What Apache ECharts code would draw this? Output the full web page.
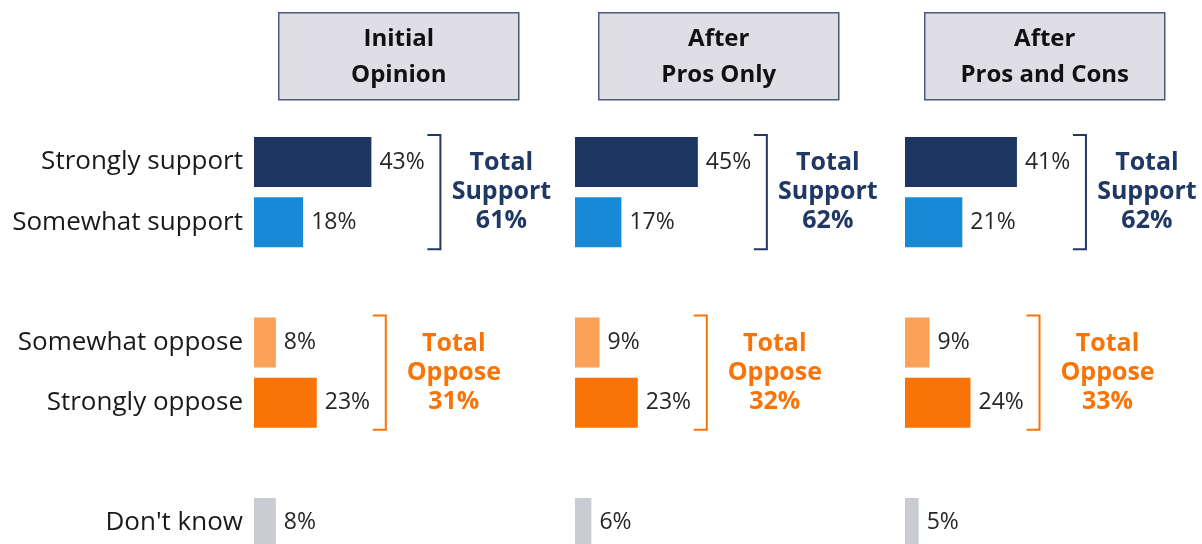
<!DOCTYPE html>
<html><head><meta charset="utf-8">
<script src="https://cdn.jsdelivr.net/npm/echarts@6/dist/echarts.min.js"></script>
<style>html,body{margin:0;padding:0;background:#fff}#c{width:1202px;height:544px}</style>
</head><body><div id="c"></div>
<script>
// ---- data ----
const categories = ['Strongly support', 'Somewhat support', '', 'Somewhat oppose', 'Strongly oppose', '', "Don't know"];
const panelTitles = ['Initial\nOpinion', 'After\nPros Only', 'After\nPros and Cons'];
const initialOpinion   = [43, 18, null, 8, 23, null, 8];
const afterProsOnly    = [45, 17, null, 9, 23, null, 6];
const afterProsAndCons = [41, 21, null, 9, 24, null, 5];
const groupNames = ['Support', 'Oppose'];
const groupFirst = [0, 3];
const groupLast = [1, 4];

// ---- styles / layout ----
const panels = [initialOpinion, afterProsOnly, afterProsAndCons];
const barColors = ['#1D3661', '#1889D7', null, '#FCA158', '#F97306', null, '#C9CCD3'];
const groupColors = ['#1F3864', '#F97306'];
const groupTextOffset = [61, 68];
const FONT = '"Open Sans", sans-serif';
const gridLefts = [254, 575, 905];
const boxLefts = [278, 598, 924];
const GRID_TOP = 132, GRID_H = 421, GRID_W = 273;

const grids = [], xAxes = [], yAxes = [], series = [], graphics = [];
panels.forEach((vals, p) => {
  grids.push({ left: gridLefts[p], top: GRID_TOP, width: GRID_W, height: GRID_H, containLabel: false, outerBoundsMode: 'none' });
  xAxes.push({ type: 'value', gridIndex: p, min: 0, max: 100, show: false });
  yAxes.push({
    type: 'category', gridIndex: p, data: categories, inverse: true,
    axisLine: { show: false }, axisTick: { show: false }, splitLine: { show: false },
    axisLabel: { show: p === 0, margin: 11, fontSize: 26, color: '#1a1a1a', fontFamily: FONT }
  });
  series.push({
    type: 'bar', xAxisIndex: p, yAxisIndex: p, barWidth: 50, animation: false,
    data: vals.map((v, i) => v == null ? null : { value: v, itemStyle: { color: barColors[i] } }),
    label: { show: true, position: 'right', distance: 8, formatter: '{c}%', fontSize: 23, color: '#262626', fontFamily: FONT }
  });
  const bdata = groupNames.map((g, k) => {
    const part = vals.slice(groupFirst[k], groupLast[k] + 1);
    return [Math.max(...part), groupFirst[k], groupLast[k], part.reduce((a, b) => a + b, 0), k];
  });
  series.push({
    type: 'custom', xAxisIndex: p, yAxisIndex: p, clip: false, animation: false, silent: true,
    encode: { x: 0, y: 1 },
    data: bdata,
    renderItem: function (params, api) {
      const maxV = api.value(0), a = api.value(1), b = api.value(2), tot = api.value(3), k = api.value(4);
      const pa = api.coord([maxV, a]), pb = api.coord([maxV, b]);
      const top = pa[1] - 27, bottom = pb[1] + 27;
      const x = pa[0] + 69;
      const col = groupColors[k];
      return {
        type: 'group', children: [
          { type: 'polyline', shape: { points: [[x - 13, top], [x, top], [x, bottom], [x - 13, bottom]] },
            style: { stroke: col, lineWidth: 2, fill: null } },
          { type: 'text', style: { text: 'Total\n' + groupNames[k] + '\n' + tot + '%',
              x: x + groupTextOffset[k], y: (top + bottom) / 2, align: 'center', verticalAlign: 'middle',
              font: 'bold 25px ' + FONT, fill: col, lineHeight: 29 } }
        ]
      };
    }
  });
  graphics.push({
    type: 'group', left: boxLefts[p], top: 12,
    children: [
      { type: 'rect', shape: { x: 0, y: 0, width: 240, height: 87 },
        style: { fill: '#DEDEE4', stroke: '#4A5A78', lineWidth: 1.5 } },
      { type: 'text', x: 120, y: 44, style: { text: panelTitles[p], align: 'center', verticalAlign: 'middle',
          font: 'bold 24px ' + FONT, fill: '#111', lineHeight: 36 } }
    ]
  });
});

const chart = echarts.init(document.getElementById('c'), null, { renderer: 'canvas' });
chart.setOption({
  backgroundColor: '#fff',
  animation: false,
  grid: grids, xAxis: xAxes, yAxis: yAxes, series: series, graphic: graphics
});
</script>
</body></html>
